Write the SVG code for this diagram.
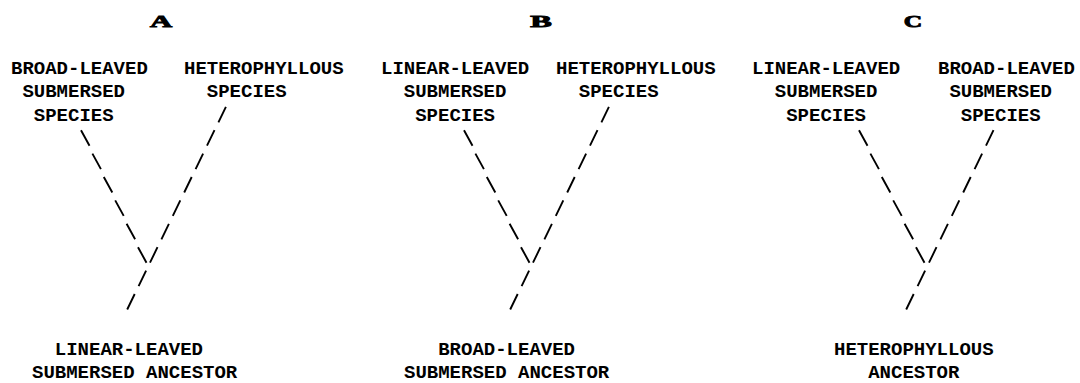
<svg xmlns="http://www.w3.org/2000/svg" width="1080" height="383" viewBox="0 0 1080 383">
<style>
.t{font-family:"Liberation Mono","DejaVu Sans Mono",monospace;font-size:19px;font-weight:bold;fill:#000}
.h{font-family:"Liberation Serif","DejaVu Serif",serif;font-size:17px;font-weight:bold;fill:#000;stroke:#000;stroke-width:0.9;text-anchor:middle}
.c{fill:none;stroke:#000;stroke-width:1.9;stroke-linecap:butt}
</style>
<rect width="1080" height="383" fill="#fff"/>
<g id="headings">
<text class="h" transform="translate(161,26.5) scale(1.8,1)">A</text>
<text class="h" transform="translate(541,26.5) scale(1.9,1)">B</text>
<text class="h" transform="translate(913,26.5) scale(1.5,1)">C</text>
</g>
<g id="a-broad"><text class="t" x="11" y="74">BROAD-LEAVED</text><text class="t" x="22.4" y="97.4">SUBMERSED</text><text class="t" x="33.8" y="120.8">SPECIES</text></g>
<g id="a-hetero"><text class="t" x="184" y="74">HETEROPHYLLOUS</text><text class="t" x="206.8" y="97.4">SPECIES</text></g>
<g id="a-ancestor"><text class="t" x="54.8" y="354.8">LINEAR-LEAVED</text><text class="t" x="32" y="378.2">SUBMERSED ANCESTOR</text></g>
<g id="b-linear"><text class="t" x="381" y="74">LINEAR-LEAVED</text><text class="t" x="403.8" y="97.4">SUBMERSED</text><text class="t" x="415.2" y="120.8">SPECIES</text></g>
<g id="b-hetero"><text class="t" x="556" y="74">HETEROPHYLLOUS</text><text class="t" x="578.8" y="97.4">SPECIES</text></g>
<g id="b-ancestor"><text class="t" x="438.2" y="354.8">BROAD-LEAVED</text><text class="t" x="404" y="378.2">SUBMERSED ANCESTOR</text></g>
<g id="c-linear"><text class="t" x="752" y="74">LINEAR-LEAVED</text><text class="t" x="774.8" y="97.4">SUBMERSED</text><text class="t" x="786.2" y="120.8">SPECIES</text></g>
<g id="c-broad"><text class="t" x="938" y="74">BROAD-LEAVED</text><text class="t" x="949.4" y="97.4">SUBMERSED</text><text class="t" x="960.8" y="120.8">SPECIES</text></g>
<g id="c-ancestor"><text class="t" x="834" y="354.8">HETEROPHYLLOUS</text><text class="t" x="868.2" y="378.2">ANCESTOR</text></g>
<g id="connectors">
<!-- Panel A -->
<path class="c" d="M81,130.2L89.5,145.7M92.4,153.6L100.9,169.1M103.8,177L112.3,192.5M115.2,200.4L123.7,215.9M126.6,223.8L135.1,239.3M138,247.2L146.5,262.7"/>
<path class="c" d="M225.9,106.8L218.4,122.3M214.5,130.2L207,145.7M203.1,153.6L195.6,169.1M191.7,177L184.2,192.5M180.3,200.4L172.8,215.9M168.9,223.8L161.4,239.3M157.5,247.2L150,262.7"/>
<path class="c" d="M146.1,270.6L138.6,286.1M134.7,294L127.2,309.5"/>
<!-- Panel B -->
<path class="c" d="M464,130.2L472.5,145.7M475.4,153.6L483.9,169.1M486.8,177L495.3,192.5M498.2,200.4L506.7,215.9M509.6,223.8L518.1,239.3M521,247.2L529.5,262.7"/>
<path class="c" d="M608.9,106.8L601.4,122.3M597.5,130.2L590,145.7M586.1,153.6L578.6,169.1M574.7,177L567.2,192.5M563.3,200.4L555.8,215.9M551.9,223.8L544.4,239.3M540.5,247.2L533,262.7"/>
<path class="c" d="M529.1,270.6L521.6,286.1M517.7,294L510.2,309.5"/>
<!-- Panel C -->
<path class="c" d="M859,130.2L867.5,145.7M870.4,153.6L878.9,169.1M881.8,177L890.3,192.5M893.2,200.4L901.7,215.9M904.6,223.8L913.1,239.3M916,247.2L924.5,262.7"/>
<path class="c" d="M993.5,130.2L986,145.7M982.1,153.6L974.6,169.1M970.7,177L963.2,192.5M959.3,200.4L951.8,215.9M947.9,223.8L940.4,239.3M936.5,247.2L929,262.7"/>
<path class="c" d="M925.1,270.6L917.6,286.1M913.7,294L906.2,309.5"/>
</g>
</svg>
